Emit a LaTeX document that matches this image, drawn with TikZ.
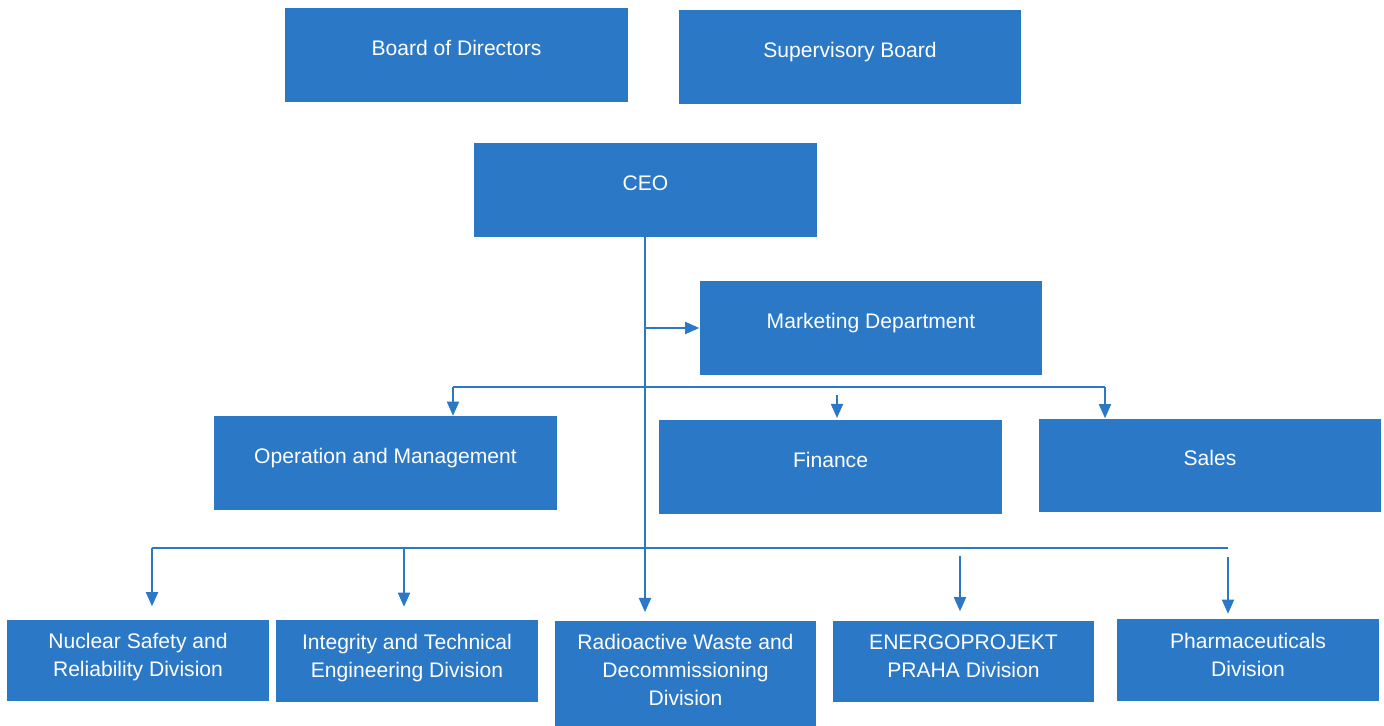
\documentclass[tikz,border=0pt]{standalone}
\usepackage{fontspec}
\setmainfont{Liberation Sans}
\usetikzlibrary{arrows.meta}
\definecolor{orgblue}{RGB}{43,120,198}
\tikzset{
  box/.style={fill=orgblue, text=white, align=center, inner sep=2pt,
    font=\fontsize{12}{16}\selectfont},
  bigbox/.style={box, minimum width=6.86cm, minimum height=1.88cm, text depth=8.2pt},
  divbox/.style={box, minimum width=5.24cm, minimum height=1.64cm, text depth=6pt},
  link/.style={draw=orgblue, line width=0.6pt},
  arr/.style={link, -{Triangle[length=8pt,width=7pt]}}
}
\begin{document}
\begin{tikzpicture}[x=0.02cm, y=-0.02cm]
  \useasboundingbox (0,0) rectangle (1384,726);
  % top boards
  \node[bigbox] (board) at (456.5,55) {Board of Directors};
  \node[bigbox] (super) at (850,57) {Supervisory Board};
  \node[bigbox] (ceo) at (645.5,190) {CEO};
  \node[bigbox] (mkt) at (871,328) {Marketing Department};
  % departments
  \node[bigbox] (ops) at (385.5,463) {Operation and Management};
  \node[bigbox] (fin) at (830.5,467) {Finance};
  \node[bigbox] (sales) at (1210,465.5) {Sales};
  % divisions
  \node[divbox] (nuc) at (138,660.5) {Nuclear Safety and\\Reliability Division};
  \node[divbox] (integ) at (407,661) {Integrity and Technical\\Engineering Division};
  \node[divbox, minimum height=2.1cm, text depth=4pt] (radio) at (685.5,673.5) {Radioactive Waste and\\Decommissioning\\Division};
  \node[divbox] (energo) at (963.5,661.5) {ENERGOPROJEKT\\PRAHA Division};
  \node[divbox] (pharma) at (1248,660) {Pharmaceuticals\\Division};
  % bus points
  \coordinate (spine) at (645,612);
  \coordinate (busL) at (453,387);
  \coordinate (busR) at (1105,387);
  \coordinate (busF) at (837,395);
  \coordinate (divL) at (152,548);
  \coordinate (divR) at (1228,548);
  \coordinate (divI) at (404,548);
  \coordinate (divE) at (960,556);
  \coordinate (divP) at (1228,557);
  % connectors
  \draw[arr] (ceo.south -| spine) -- (spine);
  \draw[arr] (spine |- mkt.west) -- (mkt.west);
  \draw[link] (busL) -- (busR);
  \draw[arr] (busL) -- (busL |- ops.north);
  \draw[arr, shorten >=1pt] (busF) -- (busF |- fin.north);
  \draw[arr] (busR) -- (busR |- sales.north);
  \draw[link] (divL) -- (divR);
  \draw[arr, shorten >=0.26cm] (divL) -- (divL |- nuc.north);
  \draw[arr, shorten >=0.26cm] (divI) -- (divI |- integ.north);
  \draw[arr, shorten >=0.18cm] (divE) -- (divE |- energo.north);
  \draw[arr, shorten >=0.1cm] (divP) -- (divP |- pharma.north);
\end{tikzpicture}
\end{document}
